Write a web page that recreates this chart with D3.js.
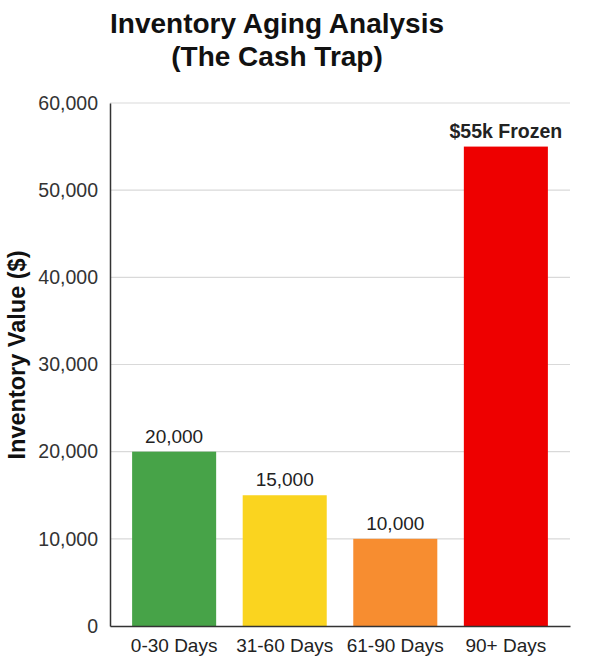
<!DOCTYPE html>
<html><head><meta charset="utf-8">
<script src="https://cdn.jsdelivr.net/npm/d3@7"></script>
<style>body{margin:0;background:#fff;}svg{display:block;font-family:"Liberation Sans",Arial,sans-serif;}</style>
</head><body>
<script>
const categories = ["0-30 Days", "31-60 Days", "61-90 Days", "90+ Days"];
const values = [20000, 15000, 10000, 55000];
const barLabels = ["20,000", "15,000", "10,000", "$55k Frozen"];
const barColors = ["#47a348", "#fad41f", "#f78d30", "#ee0000"];
const yTicks = [0, 10000, 20000, 30000, 40000, 50000, 60000];
const titleLines = ["Inventory Aging Analysis", "(The Cash Trap)"];
const yTitle = "Inventory Value ($)";

const W = 593, H = 666;
const m = {left: 110, right: 23, top: 103, bottom: 40};
const svg = d3.select("body").append("svg").attr("width", W).attr("height", H);

const x = d3.scaleBand().domain(categories).range([m.left, W - m.right]).paddingInner(0.24).paddingOuter(0.2);
const y = d3.scaleLinear().domain([0, 60000]).range([H - m.bottom, m.top]);

// gridlines
svg.append("g").selectAll("line").data(yTicks.filter(d => d > 0)).join("line")
  .attr("x1", m.left).attr("x2", W - m.right)
  .attr("y1", d => y(d)).attr("y2", d => y(d))
  .attr("stroke", "#d9d9d9").attr("stroke-width", 1.2);

// y axis tick labels
const yAxis = svg.append("g").attr("transform", `translate(${m.left},0)`)
  .call(d3.axisLeft(y).tickValues(yTicks).tickFormat(d3.format(",")).tickSize(0).tickPadding(12));
yAxis.select(".domain").attr("stroke", "#333").attr("stroke-width", 1.5);
yAxis.selectAll("text").attr("font-size", 19.5).attr("fill", "#333").attr("font-family", "Liberation Sans, Arial, sans-serif");

// bars
svg.append("g").selectAll("rect").data(values).join("rect")
  .attr("x", (d, i) => x(categories[i])).attr("width", x.bandwidth())
  .attr("y", d => y(d)).attr("height", d => y(0) - y(d))
  .attr("fill", (d, i) => barColors[i]);

// x axis
const xAxis = svg.append("g").attr("transform", `translate(0,${y(0)})`)
  .call(d3.axisBottom(x).tickSize(0).tickPadding(13).tickSizeOuter(0));
xAxis.select(".domain").attr("stroke", "#333").attr("stroke-width", 1.5);
xAxis.selectAll("text").attr("font-size", 19).attr("fill", "#222").attr("font-family", "Liberation Sans, Arial, sans-serif");

// bar labels
svg.append("g").selectAll("text").data(values).join("text")
  .attr("x", (d, i) => x(categories[i]) + x.bandwidth() / 2)
  .attr("y", d => y(d) - 9)
  .attr("text-anchor", "middle")
  .attr("font-size", (d, i) => i === 3 ? 19.5 : 19)
  .attr("font-weight", (d, i) => i === 3 ? "bold" : "normal")
  .attr("fill", "#222")
  .text((d, i) => barLabels[i]);

// title
svg.append("g").selectAll("text").data(titleLines).join("text")
  .attr("x", 277).attr("y", (d, i) => 33 + i * 33)
  .attr("text-anchor", "middle").attr("font-size", 28).attr("font-weight", "bold").attr("fill", "#111")
  .text(d => d);

// y title
svg.append("text")
  .attr("transform", `translate(25,355) rotate(-90)`)
  .attr("text-anchor", "middle").attr("font-size", 23.5).attr("font-weight", "bold").attr("fill", "#111")
  .text(yTitle);
</script>
</body></html>
